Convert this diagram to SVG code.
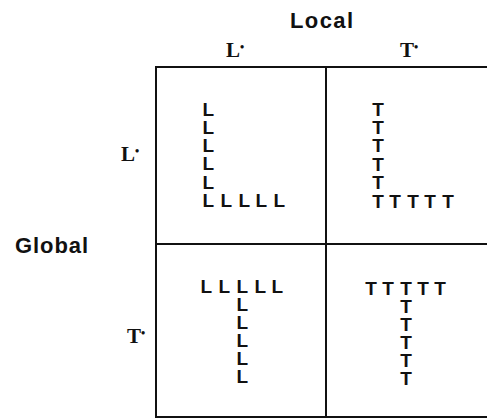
<svg xmlns="http://www.w3.org/2000/svg" width="487" height="419" viewBox="0 0 487 419">
<style>
.title{font-family:"Liberation Sans",Arial,sans-serif;font-weight:bold;font-size:22px;fill:#111}
.lab{font-family:"Liberation Serif","Times New Roman",serif;font-weight:bold;font-size:21px;fill:#111}
.dot{font-size:12px}
.g{font-family:"Liberation Sans",Arial,sans-serif;font-weight:bold;font-size:19px;fill:#111}
.gt{font-family:"Liberation Sans",Arial,sans-serif;font-weight:bold;font-size:19px;fill:#111;text-anchor:middle}
.grid{stroke:#111;stroke-width:2;fill:none}
</style>
<rect width="487" height="419" fill="#fff"/>
<g id="titles">
<text class="title" x="290" y="28" textLength="63">Local</text>
<text class="title" x="15" y="253" textLength="73">Global</text>
</g>
<g id="labels">
<text class="lab" x="226" y="57">L<tspan class="dot" dy="-6">•</tspan></text>
<text class="lab" x="400" y="57">T<tspan class="dot" dy="-6">•</tspan></text>
<text class="lab" x="121" y="161">L<tspan class="dot" dy="-6">•</tspan></text>
<text class="lab" x="127" y="343">T<tspan class="dot" dy="-6">•</tspan></text>
</g>
<g id="grid">
<line class="grid" x1="156" y1="67" x2="487" y2="67"/>
<line class="grid" x1="156" y1="244" x2="487" y2="244"/>
<line class="grid" x1="156" y1="417" x2="487" y2="417"/>
<line class="grid" x1="156" y1="66" x2="156" y2="418"/>
<line class="grid" x1="326" y1="66" x2="326" y2="418"/>
</g>
<g id="cell-LL">
<text class="g"><tspan x="202.5" y="116">L</tspan><tspan x="202.5" y="134">L</tspan><tspan x="202.5" y="152">L</tspan><tspan x="202.5" y="170">L</tspan><tspan x="202.5" y="189">L</tspan><tspan x="202.5" y="207">L</tspan><tspan x="220.5" y="207">L</tspan><tspan x="238.5" y="207">L</tspan><tspan x="255.5" y="207">L</tspan><tspan x="273.5" y="207">L</tspan></text>
</g>
<g id="cell-LT">
<text class="gt"><tspan x="378" y="116">T</tspan><tspan x="378" y="134">T</tspan><tspan x="378" y="152">T</tspan><tspan x="378" y="171">T</tspan><tspan x="378" y="189">T</tspan><tspan x="378" y="208">T</tspan><tspan x="395" y="208">T</tspan><tspan x="413" y="208">T</tspan><tspan x="430" y="208">T</tspan><tspan x="448" y="208">T</tspan></text>
</g>
<g id="cell-TL">
<text class="g"><tspan x="200.5" y="293">L</tspan><tspan x="218.5" y="293">L</tspan><tspan x="236.5" y="293">L</tspan><tspan x="254.5" y="293">L</tspan><tspan x="271.5" y="293">L</tspan><tspan x="236.5" y="311">L</tspan><tspan x="236.5" y="329">L</tspan><tspan x="236.5" y="347">L</tspan><tspan x="236.5" y="365">L</tspan><tspan x="236.5" y="383">L</tspan></text>
</g>
<g id="cell-TT">
<text class="gt"><tspan x="371" y="295">T</tspan><tspan x="388" y="295">T</tspan><tspan x="406" y="295">T</tspan><tspan x="423" y="295">T</tspan><tspan x="440" y="295">T</tspan><tspan x="406" y="313">T</tspan><tspan x="406" y="331">T</tspan><tspan x="406" y="349">T</tspan><tspan x="406" y="367">T</tspan><tspan x="406" y="385">T</tspan></text>
</g>
</svg>
